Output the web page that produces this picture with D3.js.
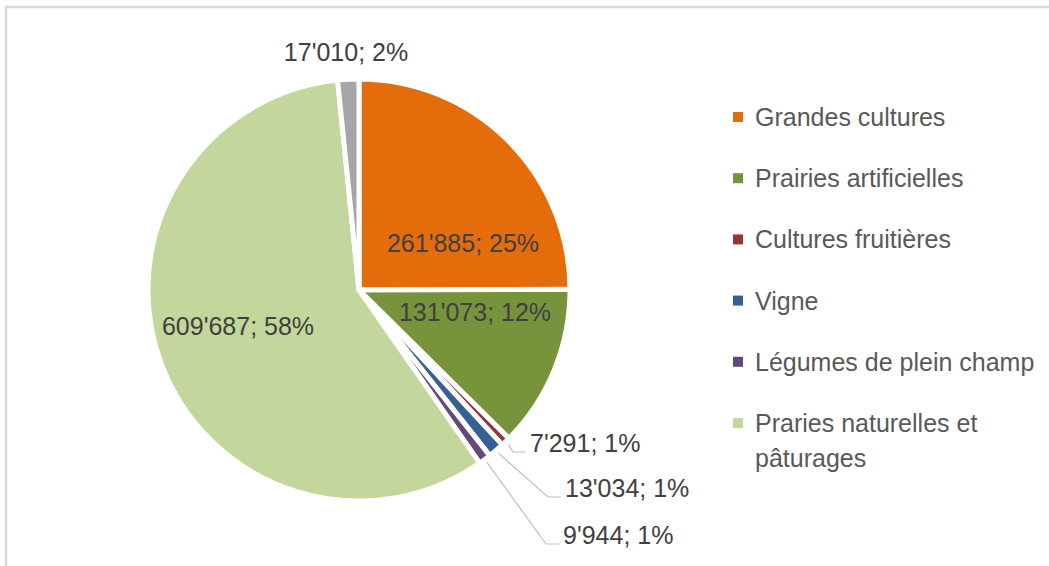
<!DOCTYPE html>
<html>
<head>
<meta charset="utf-8">
<script src="https://cdn.jsdelivr.net/npm/d3@7"></script>
<style>
  body { margin: 0; background: #fff; }
  svg { display: block; font-family: "Liberation Sans", Arial, sans-serif; }
</style>
</head>
<body>
<svg id="chart" width="1049" height="566"></svg>
<script>
// surfaces (ha) per type of culture
var categories = ["Grandes cultures", "Prairies artificielles", "Cultures fruitières", "Vigne",
                  "Légumes de plein champ", "Praries naturelles et pâturages", ""]
var values = [261885, 131073, 7291, 13034, 9944, 609687, 17010]
var colors = ["#e46c0a", "#77933c", "#953735", "#376092", "#604a7b", "#c3d69b", "#a6a6a6"]

// where the data labels go, relative to the pie centre ("in" = on the slice, "out" = with leader)
var labelLayout = [
    {type: "in", dx: 104, dy: -47},
    {type: "in", dx: 116, dy: 22},
    {type: "out", dx: 171, dy: 153},
    {type: "out", dx: 206, dy: 198},
    {type: "out", dx: 204, dy: 245},
    {type: "in", dx: -121, dy: 36},
    {type: "top", dx: -13, dy: -238}
]

var svg = d3.select("#chart")
var cx = 359, cy = 290, radius = 211

// chart frame
svg.append("rect")
    .attr("x", 6).attr("y", 7)
    .attr("width", 1200).attr("height", 700)
    .style("fill", "none")
    .style("stroke", "#d9d9d9")
    .style("stroke-width", "2.5px")

var total = d3.sum(values)
var fmt = function(v) { return d3.format(",")(v).replace(/,/g, "'") }

var pie = d3.pie().sort(null).value(function(d) { return d })
var arcs = pie(values)
var arc = d3.arc().innerRadius(0).outerRadius(radius)

var g = svg.append("g").attr("transform", "translate(" + cx + "," + cy + ")")

g.selectAll("path.slice")
    .data(arcs)
    .join("path")
    .classed("slice", true)
    .attr("d", arc)
    .style("fill", function(d, i) { return colors[i] })
    .style("stroke", "#fff")
    .style("stroke-width", "5px")
    .style("stroke-linejoin", "round")

// leader lines for the thin slices
var outside = arcs.filter(function(d, i) { return labelLayout[i].type == "out" })
g.selectAll("polyline.leader")
    .data(outside)
    .join("polyline")
    .classed("leader", true)
    .attr("points", function(d) {
        var L = labelLayout[d.index]
        var a = (d.startAngle + d.endAngle) / 2
        var r = radius + 4
        var p0 = [Math.sin(a) * r, -Math.cos(a) * r]
        var yb = L.dy + 9
        return [p0, [L.dx - 17, yb], [L.dx - 4, yb]].map(function(p) { return p.join(",") }).join(" ")
    })
    .style("fill", "none")
    .style("stroke", "#bfbfbf")
    .style("stroke-width", "1.2px")

g.selectAll("text.label")
    .data(arcs)
    .join("text")
    .classed("label", true)
    .attr("x", function(d) { return labelLayout[d.index].dx })
    .attr("y", function(d) { return labelLayout[d.index].dy })
    .attr("dy", "0.36em")
    .attr("text-anchor", function(d) { return labelLayout[d.index].type == "out" ? "start" : "middle" })
    .style("font-size", "25px")
    .style("fill", "#404040")
    .text(function(d) {
        return fmt(d.data) + "; " + Math.round(d.data / total * 100) + "%"
    })

// legend
var legendItems = categories.map(function(c, i) { return {name: c, color: colors[i]} })
    .filter(function(d) { return d.name != "" })
var legendY = d3.scalePoint().domain(d3.range(legendItems.length)).range([117, 423])

var leg = svg.append("g").selectAll("g.item")
    .data(legendItems)
    .join("g")
    .classed("item", true)
    .attr("transform", function(d, i) { return "translate(733," + legendY(i) + ")" })

leg.append("rect")
    .attr("x", 0).attr("y", -5)
    .attr("width", 10).attr("height", 10)
    .style("fill", function(d) { return d.color })

leg.append("text")
    .style("font-size", "25px")
    .style("fill", "#595959")
    .each(function(d) {
        var t = d3.select(this)
        var lines = d.name == "Praries naturelles et pâturages" ? ["Praries naturelles et", "pâturages"] : [d.name]
        lines.forEach(function(l, k) {
            t.append("tspan").attr("x", 22).attr("y", k * 35).attr("dy", "0.36em").text(l)
        })
    })
</script>
</body>
</html>
